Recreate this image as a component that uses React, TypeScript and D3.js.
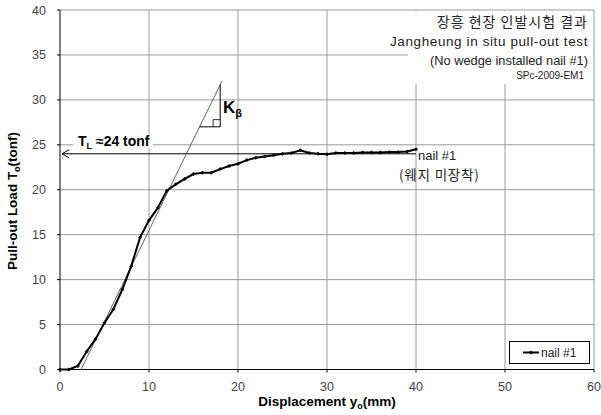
import React from "react";
import * as d3 from "d3";

// displacement (mm) and pull-out load (tonf)
const dispMm = [0, 1, 2, 3, 4, 5, 6, 7, 8, 9, 10, 11, 12, 13, 14, 15, 16, 17, 18, 19, 20,
  21, 22, 23, 24, 25, 26, 27, 28, 29, 30, 31, 32, 33, 34, 35, 36, 37, 38, 39, 40];
const loadTonf = [0, 0, 0.4, 2.0, 3.4, 5.2, 6.7, 8.9, 11.5, 14.7, 16.6, 18.0, 19.9, 20.6, 21.2,
  21.75, 21.9, 21.9, 22.3, 22.65, 22.9, 23.3, 23.55, 23.7, 23.85, 24.0, 24.1, 24.4, 24.1, 24.0,
  23.95, 24.1, 24.1, 24.1, 24.15, 24.15, 24.15, 24.2, 24.2, 24.25, 24.5];

const xTicks = [0, 10, 20, 30, 40, 50, 60];
const yTicks = [0, 5, 10, 15, 20, 25, 30, 35, 40];

// stiffness tangent line K_beta
const tangentX = [2.36, 18.2];
const tangentY = [0, 32.1];
const slopeTri = { x0: 15.66, x1: 18.0, yBase: 27.0, yTop: 31.7 };
const limitLoad = 24;

const titleLines = ["장흥 현장 인발시험 결과", "Jangheung in situ pull-out test", "(No wedge installed nail #1)", "SPc-2009-EM1"];

const W = 601, H = 415;
const margin = { top: 10, right: 7, bottom: 45.5, left: 60 };
const latin = "'Liberation Sans', Arial, sans-serif";
const korean = "'Noto Sans CJK KR', 'Liberation Sans', sans-serif";

export default function App() {
  const x = d3.scaleLinear().domain([0, 60]).range([margin.left, W - margin.right]);
  const y = d3.scaleLinear().domain([0, 40]).range([H - margin.bottom, margin.top]);

  const pts: [number, number][] = dispMm.map((d, i) => [d, loadTonf[i]]);
  const line = d3.line<[number, number]>().x(d => x(d[0])).y(d => y(d[1]));

  const sq = 0.8;

  return (
    <svg width={W} height={H} style={{ position: "absolute", left: 0, top: 0, background: "#fff" }}>
      {/* grid */}
      {xTicks.slice(1).map(t => (
        <line key={"gx" + t} x1={x(t)} x2={x(t)} y1={y(0)} y2={y(40)} stroke="#9a9a9a" strokeWidth={1} />
      ))}
      {yTicks.slice(1).map(t => (
        <line key={"gy" + t} x1={x(0)} x2={x(60)} y1={y(t)} y2={y(t)} stroke="#9a9a9a" strokeWidth={1} />
      ))}

      {/* title box */}
      <rect x={408} y={y(40) + 1} width={x(60) - 408 - 1} height={73} fill="#fff" />
      {titleLines.map((s, i) => (
        <text key={s} x={i === 3 ? 584 : 588} y={[27, 46, 65, 79][i]} textAnchor="end"
          fontFamily={i === 0 ? korean : latin} fontSize={[14, 13.5, 12.8, 10][i]}
          letterSpacing={[1, 0.6, 0, 0][i]} fill="#222">{s}</text>
      ))}

      {/* axes */}
      <line x1={x(0)} x2={x(0)} y1={y(0)} y2={y(40)} stroke="#000" />
      <line x1={x(0)} x2={x(60)} y1={y(0)} y2={y(0)} stroke="#000" />
      {xTicks.map(t => (
        <g key={"tx" + t}>
          <line x1={x(t)} x2={x(t)} y1={y(0)} y2={y(0) + 3} stroke="#000" />
          <text x={x(t)} y={391} textAnchor="middle" fontFamily={latin} fontSize={12.5} fill="#444">{t}</text>
        </g>
      ))}
      {yTicks.map(t => (
        <g key={"ty" + t}>
          <line x1={x(0) - 3} x2={x(0)} y1={y(t)} y2={y(t)} stroke="#000" />
          <text x={46} y={y(t) + 4.5} textAnchor="end" fontFamily={latin} fontSize={12.5} fill="#444">{t}</text>
        </g>
      ))}

      {/* axis titles */}
      <text x={327} y={406} textAnchor="middle" fontFamily={latin} fontSize={13.5} fontWeight="bold">
        Displacement y<tspan fontSize={9} dy={3}>o</tspan><tspan dy={-3}>(mm)</tspan>
      </text>
      <text transform="translate(17,201) rotate(-90)" textAnchor="middle" fontFamily={latin} fontSize={13.5} fontWeight="bold">
        Pull-out Load T<tspan fontSize={9} dy={3}>o</tspan><tspan dy={-3}>(tonf)</tspan>
      </text>

      {/* limit load arrow */}
      <line x1={x(0) + 2} x2={x(40)} y1={y(limitLoad)} y2={y(limitLoad)} stroke="#000" strokeWidth={1} />
      <path d={`M${x(0) + 9},${y(limitLoad) - 4} L${x(0) + 2},${y(limitLoad)} L${x(0) + 9},${y(limitLoad) + 4}`}
        fill="none" stroke="#000" />
      <rect x={73} y={134} width={80} height={15} fill="#fff" />
      <text x={78} y={146} fontFamily={latin} fontSize={14} fontWeight="bold">
        T<tspan fontSize={9} dy={3}>L</tspan><tspan dy={-3}> ≈24 tonf</tspan>
      </text>

      {/* tangent and slope triangle */}
      <line x1={x(tangentX[0])} y1={y(tangentY[0])} x2={x(tangentX[1])} y2={y(tangentY[1])} stroke="#666" strokeWidth={1} />
      <path d={`M${x(slopeTri.x0)},${y(slopeTri.yBase)} H${x(slopeTri.x1)} V${y(slopeTri.yTop)}`}
        fill="none" stroke="#000" strokeWidth={1} />
      <path d={`M${x(slopeTri.x1 - sq)},${y(slopeTri.yBase)} V${y(slopeTri.yBase + sq)} H${x(slopeTri.x1)}`}
        fill="none" stroke="#000" strokeWidth={0.8} />
      <text x={223} y={113} fontFamily={latin} fontSize={17} fontWeight="bold">
        K<tspan fontSize={11} dy={4}>β</tspan>
      </text>

      {/* data */}
      <path d={line(pts) || ""} fill="none" stroke="#000" strokeWidth={2} />
      {pts.map((p, i) => (
        <path key={i} d={`M${x(p[0]) - 2},${y(p[1])} L${x(p[0])},${y(p[1]) - 2} L${x(p[0]) + 2},${y(p[1])} L${x(p[0])},${y(p[1]) + 2}Z`}
          fill="#000" />
      ))}
      <text x={418} y={160} fontFamily={latin} fontSize={13} fill="#222">nail #1</text>
      <text x={399} y={180} fontFamily={korean} fontSize={13.5} letterSpacing={0.8} fill="#222">(웨지 미장착)</text>

      {/* legend */}
      <rect x={509.5} y={341.5} width={80} height={22} fill="#fff" stroke="#000" />
      <line x1={523} x2={539} y1={352.5} y2={352.5} stroke="#000" strokeWidth={2} />
      <path d="M529,352.5 L531,350.5 L533,352.5 L531,354.5Z" fill="#000" />
      <text x={541} y={357} fontFamily={latin} fontSize={12} fill="#222">nail #1</text>
    </svg>
  );
}
